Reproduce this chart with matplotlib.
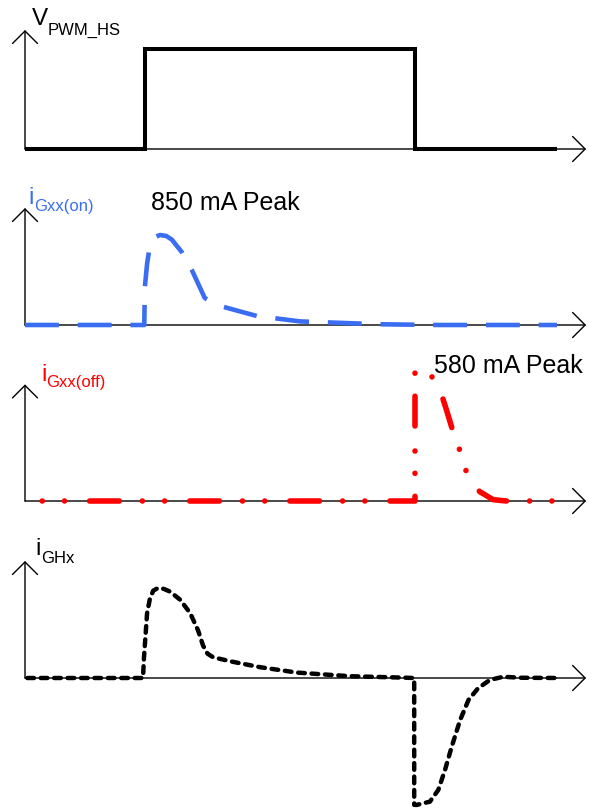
import matplotlib
matplotlib.use('Agg')
import matplotlib.pyplot as plt

# time axis in arbitrary units, amplitudes normalised to the positive peak
t_pwm = [0, 2.143, 2.143, 6.964, 6.964, 9.5]
v_pwm = [0, 0, 1, 1, 0, 0]

t_on = [0, 2.13, 2.14, 2.18, 2.23, 2.30, 2.41, 2.52, 2.62, 2.80, 2.98, 3.21, 3.40, 3.61, 4.14,
        4.91, 6.34, 7.41, 9.5]
i_on = [0, 0, 0.42, 0.68, 0.88, 0.97, 1.0, 0.99, 0.95, 0.81, 0.61, 0.30, 0.23, 0.19, 0.10,
        0.04, 0.008, 0, 0]

t_off = [0, 6.964, 6.964, 7.05, 7.14, 7.29, 7.41, 7.53, 7.65, 7.77, 7.89, 8.0, 8.125, 8.36,
         8.60, 9.55]
i_off = [0, 0, 1.0, 1.0, 0.99, 0.94, 0.85, 0.69, 0.52, 0.38, 0.21, 0.12, 0.07, 0.01, 0, 0]

t_ghx = [0, 2.107, 2.125, 2.18, 2.23, 2.29, 2.375, 2.48, 2.59, 2.77, 2.95, 3.09, 3.18, 3.26,
         3.36, 3.71, 4.20, 4.86, 5.80, 6.70, 6.95, 6.95, 6.995, 7.23, 7.38, 7.50, 7.62, 7.77,
         7.92, 8.09, 8.30, 8.54, 8.84, 9.55]
i_ghx = [0, 0, 0.23, 0.72, 0.88, 0.97, 1.0, 0.99, 0.96, 0.87, 0.72, 0.53, 0.36, 0.27,
         0.23, 0.18, 0.12, 0.06, 0.02, 0.005, 0, -1.41, -1.41, -1.374, -1.244, -1.022, -0.763,
         -0.467, -0.244, -0.114, -0.022, 0.014, 0.003, 0]

names = ['V', 'i', 'i', 'i']
subs = ['PWM_HS', 'Gxx(on)', 'Gxx(off)', 'GHx']
peak_labels = ['850 mA Peak', '580 mA Peak']

W, H = 596, 809
BLUE = '#3a6df2'
RED = '#ff0000'
FONT = 'Liberation Sans'

fig = plt.figure(figsize=(W / 100, H / 100), dpi=100)


def panel(top, bottom, base, scale, ytip):
    # one strip of the figure, baseline at pixel row `base`
    ax = fig.add_axes([0, 1 - bottom / H, 1, (bottom - top) / H])
    ax.set_xlim(-25 / 56, (W - 25) / 56)
    ax.set_ylim((base - bottom) / scale, (base - top) / scale)
    ax.axis('off')
    arrow = dict(arrowstyle='->,head_length=0.6,head_width=0.6', lw=1.0,
                 color='black', shrinkA=0, shrinkB=0, mutation_scale=15)
    ax.annotate('', xy=(10.02, 0), xytext=(0, 0), arrowprops=arrow, annotation_clip=False)
    ax.annotate('', xy=(0, ytip), xytext=(0, 0), arrowprops=arrow, annotation_clip=False)
    return ax


def label(x, y, s, size, color='black'):
    fig.text(x / W, 1 - y / H, s, fontsize=size, color=color, va='baseline',
             ha='left', family=FONT)


ax1 = panel(0, 170, 149, 100, 1.19)
ax1.plot(t_pwm, v_pwm, color='black', lw=2.9, solid_joinstyle='miter',
         solid_capstyle='butt', zorder=3, clip_on=False)

ax2 = panel(170, 345, 325, 90, 1.30)
ax2.plot(t_on, i_on, color=BLUE, lw=3.3, linestyle=(0, (7.4, 4.1)),
         dash_capstyle='butt', dash_joinstyle='round', zorder=3, clip_on=False)

ax3 = panel(345, 520, 501, 131, 0.89)
ax3.plot(t_off, i_off, color=RED, lw=4.0,
         linestyle=(6.4, (5.36, 4.14, 0.01, 4.0, 0.01, 4.5)),
         dash_capstyle='round', dash_joinstyle='round', zorder=3, clip_on=False)

ax4 = panel(520, 809, 678, 90, 1.30)
ax4.plot(t_ghx, i_ghx, color='black', lw=3.2, linestyle=(2.5, (1.5, 1.52)),
         dash_capstyle='round', dash_joinstyle='round', zorder=3, clip_on=False)

label(32, 25, names[0], 17.5)
label(48, 35, subs[0], 12)
label(28, 204, names[1], 17.5, BLUE)
label(34, 211, subs[1], 12, BLUE)
label(41, 381, names[2], 17.5, RED)
label(46, 387, subs[2], 12, RED)
label(35, 555, names[3], 17.5)
label(41, 563, subs[3], 12)
label(151, 210, peak_labels[0], 18)
label(434, 373, peak_labels[1], 18)

fig.savefig('out.png', dpi=100, facecolor='white')
